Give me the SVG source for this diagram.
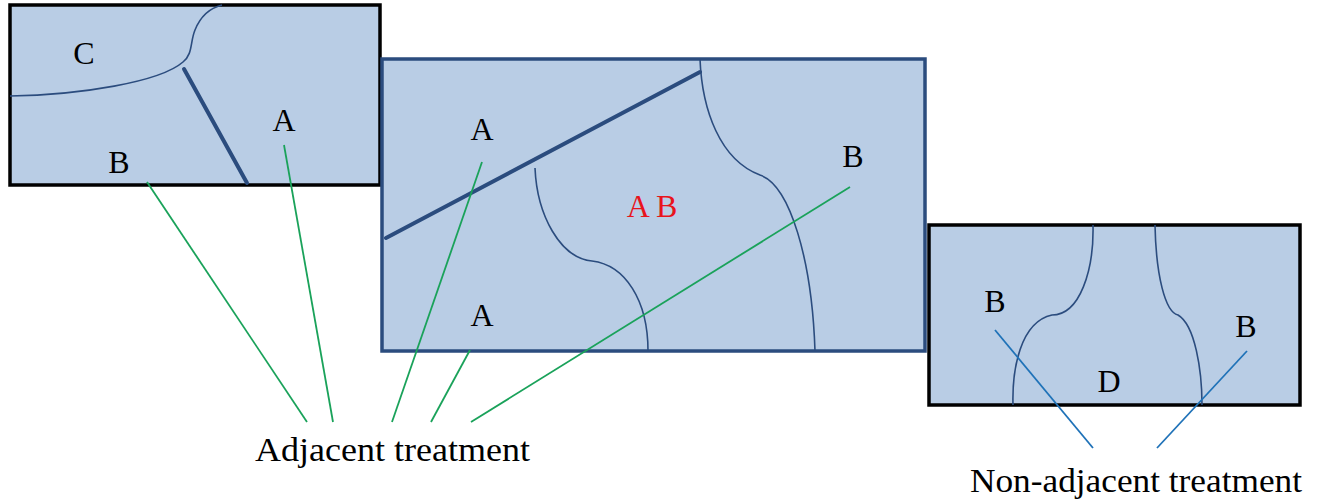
<svg xmlns="http://www.w3.org/2000/svg" width="1321" height="500" viewBox="0 0 1321 500">
<style>
.panel{fill:#b9cde5}
.blk{stroke:#000;stroke-width:3.5}
.dkb{stroke:#2b4c7e;stroke-width:3.5}
.thin{fill:none;stroke:#2b4c7e;stroke-width:1.6}
.thick{fill:none;stroke:#2b4c7e;stroke-width:4;stroke-linecap:round}
.lbl{font-family:"Liberation Serif","Times New Roman",serif;font-size:32px;fill:#000;text-anchor:middle}
.red{fill:#e8141c}
.cap{font-family:"Liberation Serif","Times New Roman",serif;font-size:33px;fill:#000}
.g{stroke:#1aa25a;stroke-width:1.8;fill:none}
.b{stroke:#1f72b8;stroke-width:1.8;fill:none}
</style>
<rect width="1321" height="500" fill="#fff"/>
<g id="panel1">
<rect class="panel blk" x="10" y="5" width="370" height="180"/>
<path class="thin" d="M10,96 C80,95 160,82 183,62 C193,54 190,42 195,30 C201,15 210,8 222,5"/>
<path class="thick" d="M184,69 L247,183"/>
<text class="lbl" x="84" y="64">C</text>
<text class="lbl" x="284" y="131">A</text>
<text class="lbl" x="119" y="173">B</text>
</g>
<g id="panel2">
<rect class="panel dkb" x="382" y="59" width="543" height="292"/>
<path class="thick" d="M386,238 L700,72"/>
<path class="thin" d="M700,59 C702,110 720,160 760,175 C790,185 812,260 815,351"/>
<path class="thin" d="M535,168 C537,215 560,258 592,261 C625,265 648,300 648,351"/>
<text class="lbl" x="482" y="140">A</text>
<text class="lbl" x="482" y="326">A</text>
<text class="lbl" x="853" y="167">B</text>
<text class="lbl red" x="652" y="217">A B</text>
</g>
<g id="panel3">
<rect class="panel blk" x="929" y="225" width="371" height="180"/>
<path class="thin" d="M1093,225 C1094,270 1080,315 1052,315 C1020,322 1012,370 1013,405"/>
<path class="thin" d="M1155,225 C1156,275 1165,312 1178,315 C1195,325 1202,370 1202,405"/>
<text class="lbl" x="995" y="312">B</text>
<text class="lbl" x="1246" y="337">B</text>
<text class="lbl" x="1109" y="392">D</text>
</g>
<g id="connectors">
<path class="g" d="M147,182 L307,422"/>
<path class="g" d="M284,145 L333,422"/>
<path class="g" d="M482,162 L392,422"/>
<path class="g" d="M470,350 L431,422"/>
<path class="g" d="M850,187 L471,422"/>
<path class="b" d="M995,330 L1093,448"/>
<path class="b" d="M1247,351 L1157,448"/>
</g>
<g id="captions">
<text class="cap" x="255" y="461" textLength="275" lengthAdjust="spacingAndGlyphs">Adjacent treatment</text>
<text class="cap" x="970" y="492" textLength="332" lengthAdjust="spacingAndGlyphs">Non-adjacent treatment</text>
</g>
</svg>
